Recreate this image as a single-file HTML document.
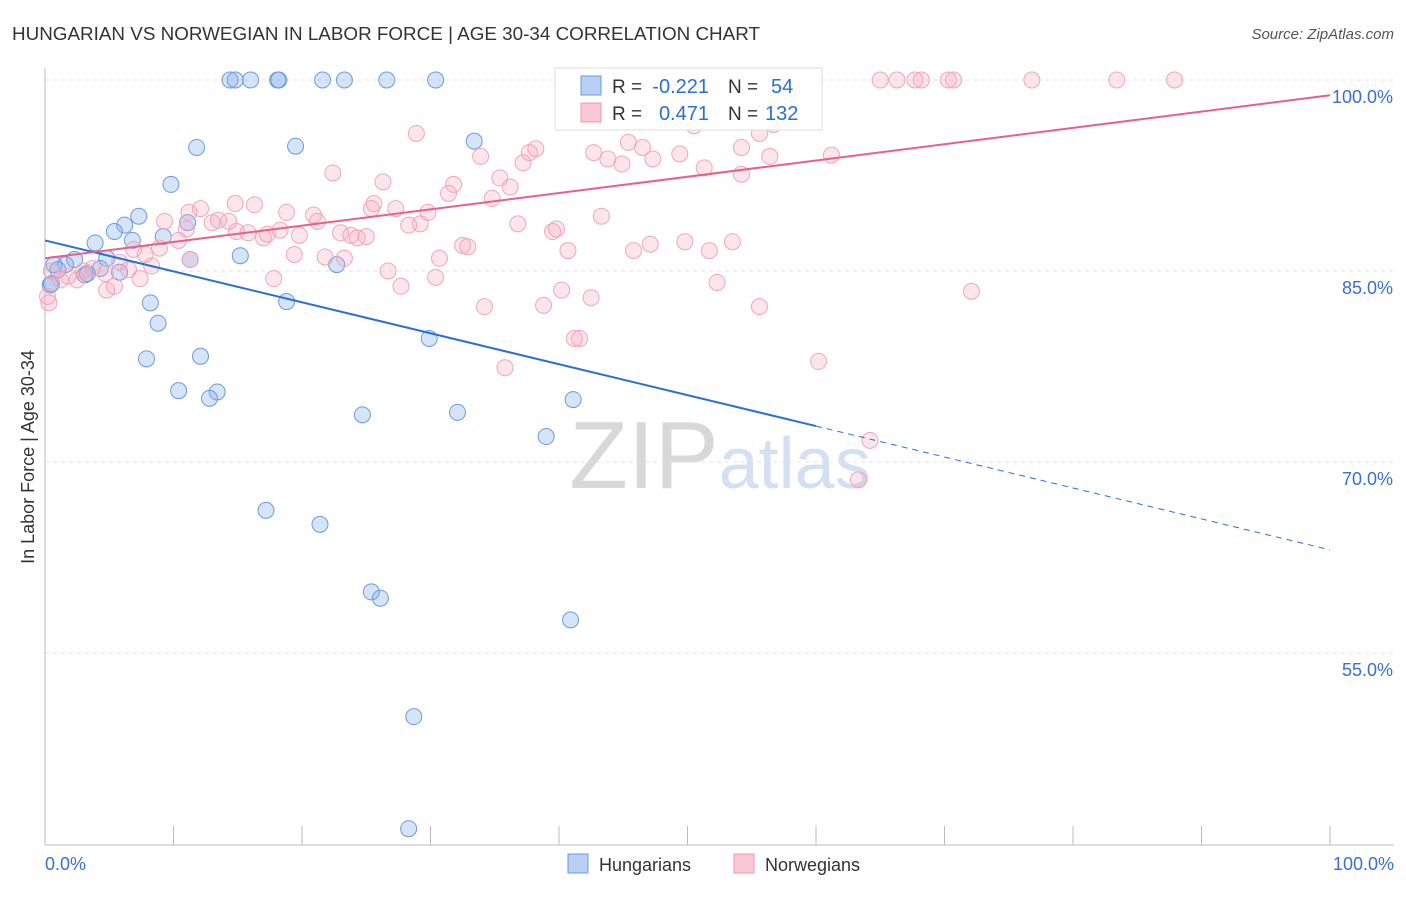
<!DOCTYPE html>
<html><head><meta charset="utf-8"><style>
body{margin:0;background:#fff;font-family:"Liberation Sans",sans-serif;}
svg text{font-family:"Liberation Sans",sans-serif;}
</style></head><body>
<svg id="chart" width="1406" height="892">
<text x="12" y="40" font-size="18" fill="#333" textLength="748" lengthAdjust="spacingAndGlyphs">HUNGARIAN VS NORWEGIAN IN LABOR FORCE | AGE 30-34 CORRELATION CHART</text>
<text x="1394" y="39" font-size="15" fill="#555" text-anchor="end" font-style="italic">Source: ZipAtlas.com</text>
<text transform="translate(34,457) rotate(-90)" font-size="18" fill="#333" text-anchor="middle">In Labor Force | Age 30-34</text>
<text x="720" y="488" font-size="96" fill="#e0e0e0" text-anchor="middle" font-family="Liberation Serif"><tspan fill="#d8d8d8">ZIP</tspan><tspan fill="#d3e0f3" font-family="Liberation Sans" font-size="72">atlas</tspan></text>
<g id="grid"></g><g id="axes"></g><g id="pts"></g><g id="lines"></g>
<g>
<rect x="555" y="68" width="267" height="62" fill="#fff" stroke="#ddd"/>
<rect x="581" y="76" width="20" height="19" fill="#b8d0f4" stroke="#6a9ae0"/>
<rect x="581" y="103" width="20" height="19" fill="#f9c8d6" stroke="#ec98b0"/>
<text x="612" y="93" font-size="19" fill="#333">R =</text>
<text x="709" y="93" font-size="20" fill="#2a6fd6" text-anchor="end">-0.221</text>
<text x="728" y="93" font-size="19" fill="#333">N =</text>
<text x="771" y="93" font-size="20" fill="#2a6fd6">54</text>
<text x="612" y="120" font-size="19" fill="#333">R =</text>
<text x="709" y="120" font-size="20" fill="#2a6fd6" text-anchor="end">0.471</text>
<text x="728" y="120" font-size="19" fill="#333">N =</text>
<text x="765" y="120" font-size="20" fill="#2a6fd6">132</text>
</g>
<g>
<rect x="568" y="854" width="20" height="19" fill="#b8d0f4" stroke="#6a9ae0"/>
<text x="599" y="871" font-size="18" fill="#333">Hungarians</text>
<rect x="734" y="854" width="20" height="19" fill="#f9c8d6" stroke="#ec98b0"/>
<text x="765" y="871" font-size="18" fill="#333">Norwegians</text>
</g>
</svg>
<script>
const yTicks=[100,85,70,55];
const xTickLabels=["0.0%","100.0%"];
const hungarians=[[14.4,100],[14.8,100],[16.0,100],[18.1,100],[18.2,100],[21.6,100],[23.3,100],[26.6,100],[30.4,100],[11.8,94.7],[19.5,94.8],[33.4,95.2],[9.8,91.8],[7.3,89.3],[6.2,88.6],[5.4,88.1],[6.8,87.4],[9.2,87.7],[3.9,87.2],[11.1,88.8],[0.7,85.5],[1.6,85.5],[2.3,85.9],[4.3,85.2],[3.1,84.7],[4.8,86.0],[11.3,85.9],[15.2,86.2],[22.7,85.5],[18.8,82.6],[8.2,82.5],[8.8,80.9],[29.9,79.7],[7.9,78.1],[12.1,78.3],[10.4,75.6],[13.4,75.5],[12.8,75.0],[24.7,73.7],[32.1,73.9],[41.1,74.9],[39.0,72.0],[17.2,66.2],[21.4,65.1],[25.4,59.8],[26.1,59.3],[40.9,57.6],[28.7,50.0],[28.3,41.2],[0.4,83.9],[1.0,85.1],[3.3,84.8],[5.8,84.9],[0.5,84.0]];
const norwegians=[[53.7,100],[57.4,100],[58.8,100],[65.0,100],[66.3,100],[67.7,100],[68.2,100],[70.3,100],[70.7,100],[76.8,100],[83.4,100],[87.9,100],[28.9,95.8],[45.4,95.1],[46.5,94.7],[47.3,93.8],[42.7,94.3],[43.8,93.8],[44.9,93.4],[55.6,95.8],[56.7,96.5],[50.5,96.4],[54.2,94.7],[56.4,94.0],[61.2,94.1],[51.3,93.1],[54.2,92.6],[49.4,94.2],[38.2,94.6],[37.7,94.3],[37.2,93.5],[33.9,94.0],[22.4,92.7],[26.3,92.0],[31.8,91.8],[31.4,91.1],[35.4,92.3],[36.2,91.6],[34.8,90.7],[14.8,90.3],[16.3,90.2],[12.1,89.9],[11.2,89.6],[9.3,88.9],[11.0,88.3],[13.0,88.8],[13.5,89.0],[14.3,88.9],[18.8,89.6],[20.9,89.4],[21.2,88.9],[25.6,90.3],[25.4,89.9],[27.3,89.9],[29.8,89.6],[28.3,88.6],[29.2,88.7],[36.8,88.7],[39.5,88.1],[39.8,88.3],[43.3,89.3],[23.0,88.0],[23.8,87.8],[24.3,87.6],[25.0,87.7],[19.8,87.8],[15.8,88.0],[17.0,87.6],[17.3,87.9],[18.3,88.2],[14.9,88.1],[10.4,87.4],[8.9,86.8],[7.8,86.3],[6.9,86.7],[5.8,85.7],[8.3,85.4],[11.3,85.9],[19.4,86.3],[21.8,86.1],[23.3,86.0],[32.5,87.0],[32.9,86.9],[30.7,86.0],[40.7,86.6],[45.8,86.6],[47.1,87.1],[49.8,87.3],[51.7,86.6],[53.5,87.3],[26.7,85.0],[30.4,84.5],[27.7,83.8],[17.8,84.4],[7.4,84.4],[6.5,85.1],[4.7,84.8],[3.7,85.2],[1.8,84.6],[1.2,84.3],[5.4,83.8],[4.8,83.5],[34.2,82.2],[38.8,82.3],[40.2,83.5],[42.5,82.9],[52.3,84.1],[55.6,82.2],[72.1,83.4],[41.2,79.7],[41.6,79.7],[35.8,77.4],[60.2,77.9],[64.2,71.7],[63.3,68.6],[0.2,83.0],[0.5,85.0],[2.5,84.3],[3.0,85.0],[0.3,82.5]];
const blueTrend=[87.4,63.1];
const pinkTrend=[86.0,98.8];
const blueSolidEnd=60;
const NS="http://www.w3.org/2000/svg";
const X=v=>45+v*12.85, Y=v=>80+(100-v)*12.733;
function mk(tag,parent,attrs){const e=document.createElementNS(NS,tag);for(const k in attrs)e.setAttribute(k,attrs[k]);document.getElementById(parent).appendChild(e);return e;}
yTicks.forEach(t=>{
 const l=mk('line','grid',{x1:45,x2:1394,y1:Y(t),y2:Y(t),stroke:'#e2e2e2','stroke-dasharray':'4,4'});
 
 
 const tx=mk('text','grid',{x:1393,y:Y(t)+23,'font-size':18,fill:'#3a6fd0','text-anchor':'end'});
 tx.textContent=t.toFixed(1)+'%';
 
 
});
const ax=mk('line','axes',{x1:45,x2:45,y1:68,y2:845,stroke:'#bbb'});


const bx=mk('line','axes',{x1:45,x2:1394,y1:845,y2:845,stroke:'#bbb'});


for(let i=0;i<=10;i++){const t=mk('line','axes',{x1:X(i*10),x2:X(i*10),y1:826,y2:845,stroke:'#bbb'});
 
 }
[[0,'start',45],[100,'end',1394]].forEach((d,i)=>{const t=mk('text','axes',{x:d[2],y:870,'font-size':18,fill:'#3a6fd0','text-anchor':d[1]});t.textContent=xTickLabels[i];
 
 });
hungarians.forEach(p=>{const c=mk('circle','pts',{cx:X(p[0]),cy:Y(p[1]),r:8,fill:'rgba(130,172,235,0.33)',stroke:'#6d9ade','stroke-width':1});
 
 });
norwegians.forEach(p=>{const c=mk('circle','pts',{cx:X(p[0]),cy:Y(p[1]),r:8,fill:'rgba(245,165,188,0.28)',stroke:'#efa6bb','stroke-width':1});
 
 });
const by=x=>blueTrend[0]+(blueTrend[1]-blueTrend[0])*x/100;
const b1=mk('line','lines',{x1:X(0),y1:Y(by(0)),x2:X(blueSolidEnd),y2:Y(by(blueSolidEnd)),stroke:'#2a6fd6','stroke-width':2});


const b2=mk('line','lines',{x1:X(blueSolidEnd),y1:Y(by(blueSolidEnd)),x2:X(100),y2:Y(by(100)),stroke:'#2a6fd6','stroke-width':1,'stroke-dasharray':'6,5'});


const p1=mk('line','lines',{x1:X(0),y1:Y(pinkTrend[0]),x2:X(100),y2:Y(pinkTrend[1]),stroke:'#e8608a','stroke-width':2});


</script>
</body></html>
